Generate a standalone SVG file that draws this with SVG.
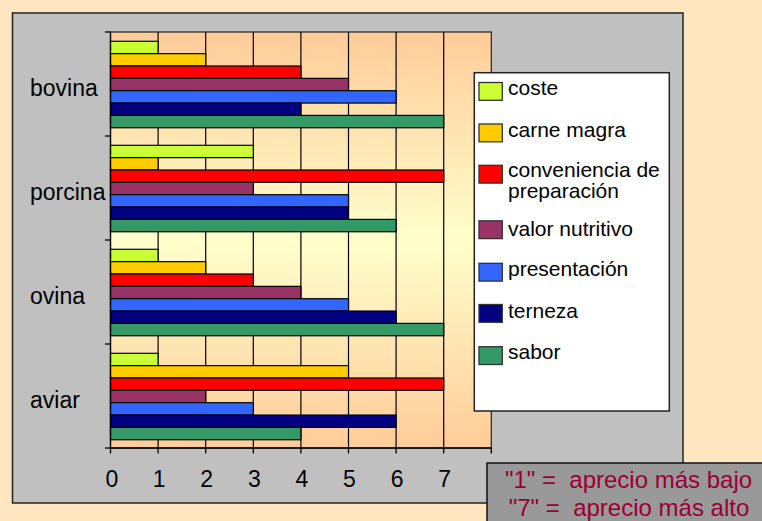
<svg xmlns="http://www.w3.org/2000/svg" width="762" height="521" viewBox="0 0 762 521">
<defs>
<linearGradient id="plotGrad" x1="0" y1="0" x2="0" y2="1">
<stop offset="0" stop-color="#FFCC99"/>
<stop offset="0.5" stop-color="#FFFFCC"/>
<stop offset="1" stop-color="#FFCC99"/>
</linearGradient>
</defs>
<style>
.lbl{font-family:"Liberation Sans",Arial,sans-serif;font-size:23px;fill:#000}
.leg{font-family:"Liberation Sans",Arial,sans-serif;font-size:21px;fill:#000}
.note{font-family:"Liberation Sans",Arial,sans-serif;font-size:24px;fill:#990033}
.bar{stroke:#000;stroke-width:1.2}
.sw{stroke:#333;stroke-width:1.3}
.grid{stroke:#000;stroke-width:1.2}
.c1{fill:#CCFF33}.c2{fill:#FFCC00}.c3{fill:#FF0000}.c4{fill:#993366}.c5{fill:#3366FF}.c6{fill:#000080}.c7{fill:#339966}
</style>
<rect x="0" y="0" width="762" height="521" fill="#FFE6C0"/>
<rect id="chartArea" x="12.5" y="13" width="670.5" height="490" fill="#C0C0C0" stroke="#222" stroke-width="1.5"/>
<g id="plot">
<rect x="110.5" y="32" width="380.8" height="416" fill="url(#plotGrad)" stroke="#222" stroke-width="1.2"/>
<g id="gridlines">
<line class="grid" x1="158.1" y1="32" x2="158.1" y2="448"/>
<line class="grid" x1="205.7" y1="32" x2="205.7" y2="448"/>
<line class="grid" x1="253.3" y1="32" x2="253.3" y2="448"/>
<line class="grid" x1="300.9" y1="32" x2="300.9" y2="448"/>
<line class="grid" x1="348.5" y1="32" x2="348.5" y2="448"/>
<line class="grid" x1="396.1" y1="32" x2="396.1" y2="448"/>
<line class="grid" x1="443.7" y1="32" x2="443.7" y2="448"/>
</g>
<g id="bovina">
<rect class="bar c1" x="110.5" y="41.3" width="47.6" height="12.35"/>
<rect class="bar c2" x="110.5" y="53.65" width="95.2" height="12.35"/>
<rect class="bar c3" x="110.5" y="66" width="190.4" height="12.35"/>
<rect class="bar c4" x="110.5" y="78.35" width="238" height="12.35"/>
<rect class="bar c5" x="110.5" y="90.7" width="285.6" height="12.35"/>
<rect class="bar c6" x="110.5" y="103.05" width="190.4" height="12.35"/>
<rect class="bar c7" x="110.5" y="115.4" width="333.2" height="12.35"/>
</g>
<g id="porcina">
<rect class="bar c1" x="110.5" y="145.3" width="142.8" height="12.35"/>
<rect class="bar c2" x="110.5" y="157.65" width="47.6" height="12.35"/>
<rect class="bar c3" x="110.5" y="170" width="333.2" height="12.35"/>
<rect class="bar c4" x="110.5" y="182.35" width="142.8" height="12.35"/>
<rect class="bar c5" x="110.5" y="194.7" width="238" height="12.35"/>
<rect class="bar c6" x="110.5" y="207.05" width="238" height="12.35"/>
<rect class="bar c7" x="110.5" y="219.4" width="285.6" height="12.35"/>
</g>
<g id="ovina">
<rect class="bar c1" x="110.5" y="249.3" width="47.6" height="12.35"/>
<rect class="bar c2" x="110.5" y="261.65" width="95.2" height="12.35"/>
<rect class="bar c3" x="110.5" y="274" width="142.8" height="12.35"/>
<rect class="bar c4" x="110.5" y="286.35" width="190.4" height="12.35"/>
<rect class="bar c5" x="110.5" y="298.7" width="238" height="12.35"/>
<rect class="bar c6" x="110.5" y="311.05" width="285.6" height="12.35"/>
<rect class="bar c7" x="110.5" y="323.4" width="333.2" height="12.35"/>
</g>
<g id="aviar">
<rect class="bar c1" x="110.5" y="353.3" width="47.6" height="12.35"/>
<rect class="bar c2" x="110.5" y="365.65" width="238" height="12.35"/>
<rect class="bar c3" x="110.5" y="378" width="333.2" height="12.35"/>
<rect class="bar c4" x="110.5" y="390.35" width="95.2" height="12.35"/>
<rect class="bar c5" x="110.5" y="402.7" width="142.8" height="12.35"/>
<rect class="bar c6" x="110.5" y="415.05" width="285.6" height="12.35"/>
<rect class="bar c7" x="110.5" y="427.4" width="190.4" height="12.35"/>
</g>
<g id="axes" stroke="#000" stroke-width="1.3">
<line x1="110.5" y1="32" x2="110.5" y2="448"/>
<line x1="110.5" y1="448" x2="491.3" y2="448"/>
<line x1="105" y1="32" x2="110.5" y2="32"/>
<line x1="105" y1="136" x2="110.5" y2="136"/>
<line x1="105" y1="240" x2="110.5" y2="240"/>
<line x1="105" y1="344" x2="110.5" y2="344"/>
<line x1="105" y1="448" x2="110.5" y2="448"/>
<line x1="110.5" y1="448" x2="110.5" y2="453.5"/>
<line x1="158.1" y1="448" x2="158.1" y2="453.5"/>
<line x1="205.7" y1="448" x2="205.7" y2="453.5"/>
<line x1="253.3" y1="448" x2="253.3" y2="453.5"/>
<line x1="300.9" y1="448" x2="300.9" y2="453.5"/>
<line x1="348.5" y1="448" x2="348.5" y2="453.5"/>
<line x1="396.1" y1="448" x2="396.1" y2="453.5"/>
<line x1="443.7" y1="448" x2="443.7" y2="453.5"/>
<line x1="491.3" y1="448" x2="491.3" y2="453.5"/>
</g>
</g>
<g id="categoryLabels">
<text class="lbl" x="30" y="96">bovina</text>
<text class="lbl" x="30" y="200">porcina</text>
<text class="lbl" x="30" y="304">ovina</text>
<text class="lbl" x="30" y="408">aviar</text>
</g>
<g id="xLabels" text-anchor="middle">
<text class="lbl" x="112" y="487">0</text>
<text class="lbl" x="159.1" y="487">1</text>
<text class="lbl" x="206.7" y="487">2</text>
<text class="lbl" x="254.3" y="487">3</text>
<text class="lbl" x="301.9" y="487">4</text>
<text class="lbl" x="349.5" y="487">5</text>
<text class="lbl" x="397.1" y="487">6</text>
<text class="lbl" x="444.7" y="487">7</text>
</g>
<g id="legend">
<rect x="474.3" y="72.7" width="195" height="338.3" fill="#FFFFFF" stroke="#222" stroke-width="1.5"/>
<rect class="sw c1" x="479" y="82.5" width="23.3" height="17.8"/>
<text class="leg" x="508" y="95">coste</text>
<rect class="sw c2" x="479" y="124" width="23.3" height="17.8"/>
<text class="leg" x="508" y="136.7">carne magra</text>
<rect class="sw c3" x="479" y="165.3" width="23.3" height="17.8"/>
<text class="leg" x="508" y="177.3">conveniencia de</text>
<text class="leg" x="508" y="198.3">preparación</text>
<rect class="sw c4" x="479" y="220.8" width="23.3" height="17.8"/>
<text class="leg" x="508" y="236">valor nutritivo</text>
<rect class="sw c5" x="479" y="263.3" width="23.3" height="17.8"/>
<text class="leg" x="508" y="276">presentación</text>
<rect class="sw c6" x="479" y="304.5" width="23.3" height="17.8"/>
<text class="leg" x="508" y="317.7">terneza</text>
<rect class="sw c7" x="479" y="346.7" width="23.3" height="17.8"/>
<text class="leg" x="508" y="359">sabor</text>
</g>
<g id="note">
<rect x="487" y="463" width="280" height="62" fill="#999999" stroke="#111" stroke-width="1.5"/>
<text class="note" x="628.5" y="487.5" text-anchor="middle">"1" =&#160; aprecio más bajo</text>
<text class="note" x="629" y="516" text-anchor="middle">"7" =&#160; aprecio más alto</text>
</g>
</svg>
